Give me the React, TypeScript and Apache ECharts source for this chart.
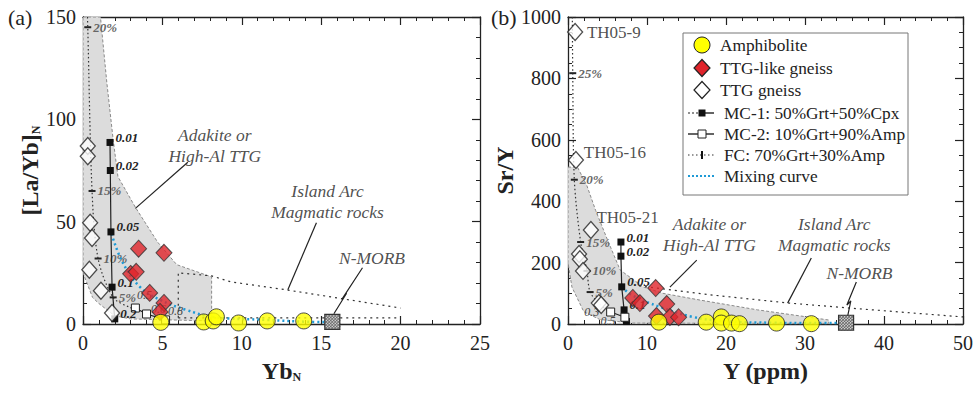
import React, { useEffect, useRef } from "react";
import * as echarts from "echarts";

const FONT = "Liberation Serif";

// ---------- Panel (a): [La/Yb]N vs YbN ----------
const amphA = [[4.9, 0.8], [7.6, 1.0], [8.2, 1.5], [8.4, 3.5], [9.8, 0.5], [11.6, 1.5], [13.9, 1.5]];
const ttgLikeA = [[3.5, 36.8], [5.1, 34.8], [3.0, 24.5], [3.35, 25.5], [4.2, 15.2], [5.1, 10.3], [4.85, 5.9]];
const ttgA = [[0.3, 87], [0.3, 82], [0.45, 49.5], [0.57, 42], [0.4, 26.5], [1.13, 16.2], [1.83, 5.4]];
const mc1A = [[1.7, 88.7], [1.72, 75], [1.76, 45], [1.83, 18], [2.0, 2.5]];
const mc1LabelsA = ["0.01", "0.02", "0.05", "0.1", "0.2"];
const mc2A = [[3.3, 7.8], [4.0, 4.9], [5.2, 2.0]];
const mc2LabelsA = ["0.5", "0.6", "0.8"];
const fcA = [[0.28, 150], [0.3, 145], [0.57, 65], [0.95, 32], [1.9, 13], [3.0, 8], [4.2, 5.5]];
const fcLabelsA = ["", "20%", "15%", "10%", "5%", "", ""];
const mixA = [[1.8, 44], [2.5, 30], [3.6, 18], [4.85, 11.8], [6.5, 6.9], [8.2, 3.4], [11.6, 2.0], [14.1, 1.1], [15.7, 0.9]];
const fieldA = [[0, 150], [1.1, 150], [1.5, 118], [1.9, 90], [2.2, 72], [3.3, 57], [4.7, 40], [5.9, 29], [8.1, 23], [8.1, 1.5], [3, 2.5], [2, 4], [1.0, 10], [0.6, 13], [0, 25]];
const arcA1 = [[6, 3], [6, 25], [8.1, 23.5], [9.3, 20.6], [12.8, 16.7], [20, 7.8]];
const arcA2 = [[6, 3], [20, 3]];
const nmorbA = [[15.7, 1]];
const adakLeaderA = [[6.6, 79], [3.3, 56.5]];
const arcLeaderA = [[14.7, 49.5], [12.9, 16.7]];
const morbLeaderA = [[15.8, 5], [16.6, 15], [16.3, 12], [17.6, 27.5]];
const textsA = [
  { pos: [8.3, 87], text: "Adakite or\nHigh-Al TTG" },
  { pos: [15.4, 59.8], text: "Island Arc\nMagmatic rocks" },
  { pos: [18.2, 32.4], text: "N-MORB" },
];

// ---------- Panel (b): Sr/Y vs Y ----------
const amphB = [[11.5, 6], [17.5, 6], [19.4, 23], [19.4, 3], [20.7, 3], [21.7, 1], [26.4, 3], [30.8, 1]];
const ttgLikeB = [[11.1, 117], [8.2, 85], [9.1, 68], [12.5, 65], [11.2, 26], [12.9, 23], [14.0, 22]];
const ttgB = [[0.9, 951], [1.0, 534], [2.9, 306], [1.4, 228], [1.5, 211], [1.9, 173], [3.9, 68], [4.2, 62]];
const mc1B = [[6.7, 267], [6.7, 221], [6.8, 121], [7.1, 46], [7.4, 8]];
const mc1LabelsB = ["0.01", "0.02", "0.05", "0.1", ""];
const mc2B = [[5.4, 39], [7.2, 22]];
const mc2LabelsB = ["0.3", "0.5"];
const fcB = [[0.55, 1000], [0.6, 817], [0.8, 470], [1.6, 267], [2.4, 173], [2.8, 104], [4.0, 65], [5.4, 39]];
const fcLabelsB = ["", "25%", "20%", "15%", "10%", "5%", "", ""];
const mixB = [[6.8, 121], [8.1, 94], [11.6, 56], [15.8, 23], [20, 9], [26, 4], [31, 3], [35.2, 4]];
const fieldB = [[0, 511], [1.2, 511], [2.4, 450], [3.5, 370], [5, 274], [6.6, 176], [9.5, 121], [12, 100], [16.7, 78], [24, 46], [33, 13], [33, 2], [8, 3], [4, 15], [2, 40], [0.5, 120], [0, 200]];
const arcB = [[9, 124], [18, 95], [28, 68], [35.6, 52], [50, 23]];
const nmorbB = [[35.2, 4]];
const adakLeaderB = [[16.3, 208], [12.9, 120]];
const arcLeaderB = [[30.8, 215], [27.8, 68]];
const morbLeaderB = [[35.4, 26], [35.8, 75], [35.3, 62], [36.5, 137]];
const textsB = [
  { pos: [17.9, 290], text: "Adakite or\nHigh-Al TTG" },
  { pos: [33.7, 293], text: "Island Arc\nMagmatic rocks" },
  { pos: [36.9, 166], text: "N-MORB" },
];
const sampleLabelsB = [
  { pos: [2.4, 951], text: "TH05-9" },
  { pos: [2.0, 560], text: "TH05-16" },
  { pos: [3.6, 348], text: "TH05-21" },
];

const legendNames = ["Amphibolite", "TTG-like gneiss", "TTG gneiss", "MC-1: 50%Grt+50%Cpx", "MC-2: 10%Grt+90%Amp", "FC: 70%Grt+30%Amp", "Mixing curve"];
const legendIcons = ["circle", "redDiamond", "whiteDiamond", "mc1", "mc2", "fc", "mix"];

// label offsets (pixels) for the MC-2 fraction labels, per panel
const mc2OffsetsA = [[6, -15], [9, -6], [7, -10]];
const mc2OffsetsB = [[-22, -2], [-20, 2]];

const AX = "#222";
const YELLOW = "#ffff00";
const RED = "#e0242b";
const BLUE = "#1e9ad6";

function axisPair(gi: number, max: number, interval: number, split: number, isX: boolean, name: any) {
  const common = {
    gridIndex: gi,
    type: "value",
    min: 0,
    max,
    interval,
    axisLine: { show: true, onZero: false, lineStyle: { color: AX, width: 1.3 } },
    axisTick: { show: true, inside: true, length: 8, lineStyle: { color: AX, width: 1.2 } },
    minorTick: { show: true, splitNumber: split, length: 4, lineStyle: { color: AX, width: 1 } },
    splitLine: { show: false },
    minorSplitLine: { show: false },
  };
  const main: any = {
    ...common,
    position: isX ? "bottom" : "left",
    axisLabel: { show: true, fontFamily: FONT, fontSize: 20, color: "#222", margin: isX ? 9 : 7, formatter: (v: number) => String(v) },
    name,
    nameLocation: "middle",
    nameGap: isX ? 35 : gi === 0 ? 41 : 18,
    nameRotate: isX ? 0 : 90,
    nameTextStyle: {
      fontFamily: FONT,
      fontWeight: "bold",
      fontSize: 24,
      rich: {
        a: { fontFamily: FONT, fontSize: 24, fontWeight: "bold", color: "#222" },
        s: { fontFamily: FONT, fontSize: 12, fontWeight: "bold", color: "#222", verticalAlign: "bottom", padding: [10, 0, 0, 0] },
      },
    },
  };
  const mirror: any = { ...common, position: isX ? "top" : "right", axisLabel: { show: false } };
  return [main, mirror];
}

function polygonSeries(gi: number, pts: number[][]) {
  return {
    type: "custom",
    xAxisIndex: gi * 2,
    yAxisIndex: gi * 2,
    silent: true,
    z: 1,
    clip: true,
    data: [[0, 0]],
    renderItem: (_p: any, api: any) => ({
      type: "polygon",
      shape: { points: pts.map((p) => api.coord(p)) },
      style: { fill: "#dcdcdc", stroke: "#8a8a8a", lineWidth: 1, lineDash: [3, 2] },
    }),
  };
}

function lineS(gi: number, data: number[][], color: string, width: number, type: any, z = 3) {
  return {
    type: "line",
    xAxisIndex: gi * 2,
    yAxisIndex: gi * 2,
    data,
    symbol: "none",
    silent: true,
    z,
    lineStyle: { color, width, type },
  };
}

function textS(gi: number, items: { pos: number[]; text: string }[], style: any) {
  return {
    type: "scatter",
    xAxisIndex: gi * 2,
    yAxisIndex: gi * 2,
    symbolSize: 0,
    silent: true,
    z: 8,
    data: items.map((t) => ({ value: t.pos, name: t.text })),
    label: { show: true, position: "inside", formatter: "{b}", fontFamily: FONT, color: "#222", ...style },
  };
}

function nmorbSeries(gi: number, data: number[][]) {
  return {
    type: "custom",
    xAxisIndex: gi * 2,
    yAxisIndex: gi * 2,
    silent: true,
    z: 9,
    clip: false,
    data,
    renderItem: (_p: any, api: any) => {
      const c = api.coord([api.value(0), api.value(1)]);
      const s = 15;
      const x0 = c[0] - s / 2;
      const y0 = c[1] - s / 2;
      const children: any[] = [
        { type: "rect", shape: { x: x0, y: y0, width: s, height: s }, style: { fill: "#cfcfcf", stroke: "none" } },
      ];
      for (let d = -12; d <= 12; d += 3) {
        children.push({
          type: "line",
          shape: { x1: x0 + Math.max(0, d), y1: y0 + Math.max(0, -d), x2: x0 + Math.min(s, s + d), y2: y0 + Math.min(s, s - d) },
          style: { stroke: "#555", lineWidth: 0.8 },
        });
      }
      for (let e = 3; e <= 27; e += 3) {
        children.push({
          type: "line",
          shape: { x1: x0 + Math.max(0, e - s), y1: y0 + Math.min(s, e), x2: x0 + Math.min(s, e), y2: y0 + Math.max(0, e - s) },
          style: { stroke: "#555", lineWidth: 0.8 },
        });
      }
      children.push({ type: "rect", shape: { x: x0, y: y0, width: s, height: s }, style: { fill: "none", stroke: "#333", lineWidth: 1.2 } });
      return { type: "group", children };
    },
  };
}

function panelSeries(gi: number, d: any) {
  const xi = gi * 2;
  const labelData = (pts: number[][], labels: string[]) => pts.map((p, i) => ({ value: p, name: labels[i] }));
  return [
    polygonSeries(gi, d.field),
    ...d.arcs.map((a: number[][]) => lineS(gi, a, "#333", 1.2, [2, 4], 2)),
    ...d.leaders.map((a: number[][]) => lineS(gi, a, "#222", 1.2, "solid", 4)),
    {
      name: legendNames[5],
      type: "line",
      xAxisIndex: xi,
      yAxisIndex: xi,
      data: d.fc.map((p: number[], i: number) => ({ value: p, name: d.fcLabels[i], symbolSize: d.fcLabels[i] ? [7, 2] : 0 })),
      symbol: "rect",
      symbolSize: [7, 2],
      itemStyle: { color: "#222" },
      lineStyle: { color: "#333", width: 1.2, type: [1.5, 2.5] },
      smooth: 0.3,
      z: 3,
      label: { show: true, position: "right", distance: 2, formatter: "{b}", fontFamily: FONT, fontStyle: "italic", fontWeight: "bold", fontSize: 13, color: "#666" },
    },
    {
      name: legendNames[6],
      type: "line",
      xAxisIndex: xi,
      yAxisIndex: xi,
      data: d.mix,
      symbol: "none",
      smooth: 0.4,
      lineStyle: { color: BLUE, width: 2.5, type: [2, 3] },
      z: 4,
    },
    {
      name: legendNames[3],
      type: "line",
      xAxisIndex: xi,
      yAxisIndex: xi,
      data: labelData(d.mc1, d.mc1Labels),
      symbol: "rect",
      symbolSize: 7,
      itemStyle: { color: "#111" },
      lineStyle: { color: "#222", width: 1.2 },
      z: 5,
      label: { show: true, position: [9, -8], formatter: "{b}", fontFamily: FONT, fontStyle: "italic", fontWeight: "bold", fontSize: 13, color: "#222" },
    },
    {
      name: legendNames[4],
      type: "line",
      xAxisIndex: xi,
      yAxisIndex: xi,
      data: d.mc2.map((p: number[], i: number) => ({ value: p, name: d.mc2Labels[i], label: { position: d.mc2Offsets[i] } })),
      symbol: "rect",
      symbolSize: 8,
      itemStyle: { color: "#fff", borderColor: "#222", borderWidth: 1 },
      lineStyle: { color: "#222", width: 1.2 },
      z: 5,
      label: { show: true, formatter: "{b}", fontFamily: FONT, fontStyle: "italic", fontSize: 12, color: "#444" },
    },
    {
      name: legendNames[2],
      type: "scatter",
      xAxisIndex: xi,
      yAxisIndex: xi,
      data: d.ttg,
      symbol: "diamond",
      symbolSize: [15, 17],
      itemStyle: { color: "#fff", borderColor: "#222", borderWidth: 1.3 },
      z: 6,
    },
    {
      name: legendNames[1],
      type: "scatter",
      xAxisIndex: xi,
      yAxisIndex: xi,
      data: d.ttgLike,
      symbol: "diamond",
      symbolSize: [16, 17],
      itemStyle: { color: RED, borderColor: "#333", borderWidth: 1 },
      z: 7,
    },
    {
      name: legendNames[0],
      type: "scatter",
      xAxisIndex: xi,
      yAxisIndex: xi,
      data: d.amph,
      symbol: "circle",
      symbolSize: 16,
      itemStyle: { color: YELLOW, borderColor: "#222", borderWidth: 1 },
      z: 7,
    },
    nmorbSeries(gi, d.nmorb),
    textS(gi, d.texts, { fontStyle: "italic", fontSize: 17.5, lineHeight: 21 }),
  ];
}

function legendGraphic() {
  const left = 683, top = 33, w = 225, h = 162;
  const cx = 702;
  const rows = [45, 68, 90, 113, 134, 155, 176];
  const els: any[] = [
    { type: "rect", shape: { x: left, y: top, width: w, height: h }, style: { fill: "#fff", stroke: "#777", lineWidth: 1 }, z: 100 },
  ];
  const diamond = (y: number, fill: string) => ({
    type: "polygon",
    shape: { points: [[cx, y - 8.5], [cx + 8, y], [cx, y + 8.5], [cx - 8, y]] },
    style: { fill, stroke: "#222", lineWidth: 1.2 },
    z: 101,
  });
  legendIcons.forEach((kind, i) => {
    const y = rows[i];
    if (kind === "circle") els.push({ type: "circle", shape: { cx, cy: y, r: 8 }, style: { fill: YELLOW, stroke: "#222", lineWidth: 1 }, z: 101 });
    if (kind === "redDiamond") els.push(diamond(y, RED));
    if (kind === "whiteDiamond") els.push(diamond(y, "#fff"));
    if (kind === "mc1") {
      els.push({ type: "line", shape: { x1: 688, y1: y, x2: 702, y2: y }, style: { stroke: "#222", lineWidth: 1.2, lineDash: [2, 2] }, z: 101 });
      els.push({ type: "line", shape: { x1: 702, y1: y, x2: 714, y2: y }, style: { stroke: "#222", lineWidth: 1.4 }, z: 101 });
      els.push({ type: "rect", shape: { x: cx - 3.5, y: y - 3.5, width: 7, height: 7 }, style: { fill: "#111" }, z: 102 });
    }
    if (kind === "mc2") {
      els.push({ type: "line", shape: { x1: 688, y1: y, x2: 714, y2: y }, style: { stroke: "#222", lineWidth: 1.4 }, z: 101 });
      els.push({ type: "rect", shape: { x: cx - 4, y: y - 4, width: 8, height: 8 }, style: { fill: "#fff", stroke: "#222", lineWidth: 1 }, z: 102 });
    }
    if (kind === "fc") {
      els.push({ type: "line", shape: { x1: 688, y1: y, x2: 714, y2: y }, style: { stroke: "#333", lineWidth: 1.1, lineDash: [1.5, 2.5] }, z: 101 });
      els.push({ type: "line", shape: { x1: cx, y1: y - 4, x2: cx, y2: y + 4 }, style: { stroke: "#111", lineWidth: 2 }, z: 102 });
    }
    if (kind === "mix") {
      els.push({ type: "line", shape: { x1: 688, y1: y, x2: 714, y2: y }, style: { stroke: BLUE, lineWidth: 2, lineDash: [2, 2] }, z: 101 });
    }
    const tx = i < 3 ? 720 : 724;
    els.push({
      type: "text",
      x: tx,
      y,
      style: { text: legendNames[i], fontFamily: FONT, fontSize: 17.3, fill: "#222", verticalAlign: "middle" },
      z: 102,
    });
  });
  return els;
}

export default function App() {
  const ref = useRef<HTMLDivElement>(null);
  useEffect(() => {
    if (!ref.current) return;
    const chart = echarts.init(ref.current, undefined, { renderer: "svg" });
    const [xa, xaTop] = axisPair(0, 25, 5, 5, true, "{a|Yb}{s|N}");
    const [ya, yaRight] = axisPair(0, 150, 50, 5, false, "{a|[La/Yb]}{s|N}");
    const [xb, xbTop] = axisPair(1, 50, 10, 5, true, "{a|Y (ppm)}");
    const [yb, ybRight] = axisPair(1, 1000, 200, 4, false, "{a|Sr/Y}");

    const seriesA = panelSeries(0, {
      field: fieldA, arcs: [arcA1, arcA2], leaders: [adakLeaderA, arcLeaderA, morbLeaderA],
      fc: fcA, fcLabels: fcLabelsA, mix: mixA, mc1: mc1A, mc1Labels: mc1LabelsA, mc2: mc2A, mc2Labels: mc2LabelsA, mc2Offsets: mc2OffsetsA,
      ttg: ttgA, ttgLike: ttgLikeA, amph: amphA, nmorb: nmorbA, texts: textsA,
    });
    const seriesB = panelSeries(1, {
      field: fieldB, arcs: [arcB], leaders: [adakLeaderB, arcLeaderB, morbLeaderB],
      fc: fcB, fcLabels: fcLabelsB, mix: mixB, mc1: mc1B, mc1Labels: mc1LabelsB, mc2: mc2B, mc2Labels: mc2LabelsB, mc2Offsets: mc2OffsetsB,
      ttg: ttgB, ttgLike: ttgLikeB, amph: amphB, nmorb: nmorbB, texts: textsB,
    });
    const samples = textS(1, sampleLabelsB, { fontSize: 17, align: "left" });

    chart.setOption({
      animation: false,
      backgroundColor: "#fff",
      textStyle: { fontFamily: FONT },
      grid: [
        { left: 83, top: 17, width: 397, height: 307 },
        { left: 568, top: 17, width: 396, height: 307 },
      ],
      xAxis: [xa, xaTop, xb, xbTop],
      yAxis: [ya, yaRight, yb, ybRight],
      graphic: [
        { type: "text", left: 8, top: 6, style: { text: "(a)", fontFamily: FONT, fontSize: 22, fill: "#222" } },
        { type: "text", left: 491, top: 6, style: { text: "(b)", fontFamily: FONT, fontSize: 22, fill: "#222" } },
        ...legendGraphic(),
      ],
      series: [...seriesA, ...seriesB, samples],
    });
    return () => chart.dispose();
  }, []);
  return <div ref={ref} style={{ position: "absolute", left: 0, top: 0, width: 976, height: 393 }} />;
}
